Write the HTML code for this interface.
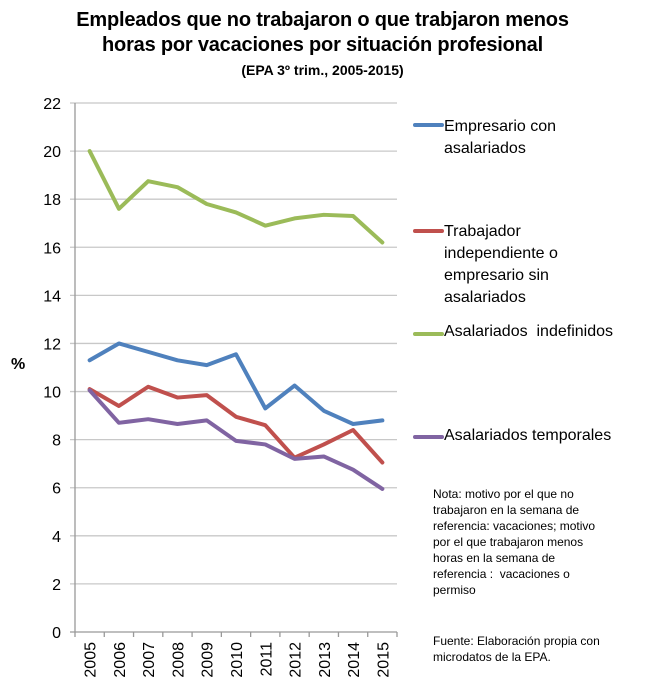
<!DOCTYPE html>
<html><head><meta charset="utf-8"><style>
body{margin:0;background:#fff;font-family:"Liberation Sans",sans-serif;}
#c{position:relative;width:645px;height:693px;overflow:hidden}
.t{position:absolute;color:#000}
</style></head><body>
<div id="c">
<div class="t" style="left:0;width:645px;top:8px;text-align:center;font-weight:bold;font-size:20px;line-height:25px;letter-spacing:-0.2px">Empleados que no trabajaron o que trabjaron menos<br>horas por vacaciones por situación profesional</div>
<div class="t" style="left:0;width:645px;top:62px;text-align:center;font-weight:bold;font-size:14px">(EPA 3º trim., 2005-2015)</div>
<svg id="s" width="645" height="693" style="position:absolute;left:0;top:0"></svg>
<div class="t" style="left:11px;top:356px;font-weight:bold;font-size:16px">%</div>
<div class="t" style="left:444px;top:116px;font-size:16px;line-height:22px">Empresario con<br>asalariados</div>
<div class="t" style="left:444px;top:221px;font-size:16px;line-height:22px">Trabajador<br>independiente o<br>empresario sin<br>asalariados</div>
<div class="t" style="left:444px;top:323px;font-size:16px;white-space:pre">Asalariados  indefinidos</div>
<div class="t" style="left:444px;top:427px;font-size:16px">Asalariados temporales</div>
<div class="t" style="left:433px;top:486px;font-size:12px;line-height:16px;white-space:pre">Nota: motivo por el que no
trabajaron en la semana de
referencia: vacaciones; motivo
por el que trabajaron menos
horas en la semana de
referencia :  vacaciones o
permiso</div>
<div class="t" style="left:433px;top:633px;font-size:12px;line-height:16px;white-space:pre">Fuente: Elaboración propia con
microdatos de la EPA.</div>
</div>
<script>
const categories=["2005","2006","2007","2008","2009","2010","2011","2012","2013","2014","2015"];
const empresario=[11.3,12.0,11.65,11.3,11.1,11.55,9.3,10.25,9.2,8.65,8.8];
const trabajador=[10.1,9.4,10.2,9.75,9.85,8.95,8.6,7.25,7.8,8.4,7.05];
const indefinidos=[20.0,17.6,18.75,18.5,17.8,17.45,16.9,17.2,17.35,17.3,16.2];
const temporales=[10.05,8.7,8.85,8.65,8.8,7.95,7.8,7.2,7.3,6.75,5.95];
const yTicks=[0,2,4,6,8,10,12,14,16,18,20,22];
const NS="http://www.w3.org/2000/svg",svg=document.getElementById('s');
const X0=75,X1=397,Y0=632,Y1=103,YMAX=22;
const bw=(X1-X0)/categories.length;
const x=i=>X0+bw*(i+0.5), y=v=>Y0-(v/YMAX)*(Y0-Y1);
function el(t,a){const e=document.createElementNS(NS,t);for(const k in a)e.setAttribute(k,a[k]);svg.appendChild(e);return e;}
yTicks.forEach(v=>{
 const g=el('line',{x1:X0-5,x2:X1,y1:y(v),y2:y(v),stroke:v===0?'#999':'#c8c8c8','stroke-width':1.3});
 
 
 const t=el('text',{x:X0-14,y:y(v)+6,'text-anchor':'end','font-size':16,'font-family':'Liberation Sans, sans-serif'});
 t.textContent=v;
 
 
});
const ax=el('line',{x1:X0,x2:X0,y1:Y1,y2:Y0+5,stroke:'#999','stroke-width':1.3});


categories.forEach((c,i)=>{
 const tk=el('line',{x1:X0+bw*(i+1),x2:X0+bw*(i+1),y1:Y0,y2:Y0+5,stroke:'#999','stroke-width':1.3});
 
 
 const t=el('text',{x:0,y:0,'text-anchor':'end','font-size':16,'font-family':'Liberation Sans, sans-serif',transform:`translate(${x(i)+6},${Y0+10}) rotate(-90)`});
 t.textContent=c;
 
 
});
const series=[[empresario,'#4f81bd','line-empresario',125],[trabajador,'#c0504d','line-trabajador',231],[indefinidos,'#9bbb59','line-indefinidos',334],[temporales,'#8064a2','line-temporales',437]];
series.forEach(([d,col,name,ly])=>{
 const p=el('polyline',{points:d.map((v,i)=>x(i)+','+y(v)).join(' '),fill:'none',stroke:col,'stroke-width':4,'stroke-linejoin':'round','stroke-linecap':'round'});
 
 
 const l=el('line',{x1:415,x2:442,y1:ly,y2:ly,stroke:col,'stroke-width':4,'stroke-linecap':'round'});
 
 
});
</script>
</body></html>
